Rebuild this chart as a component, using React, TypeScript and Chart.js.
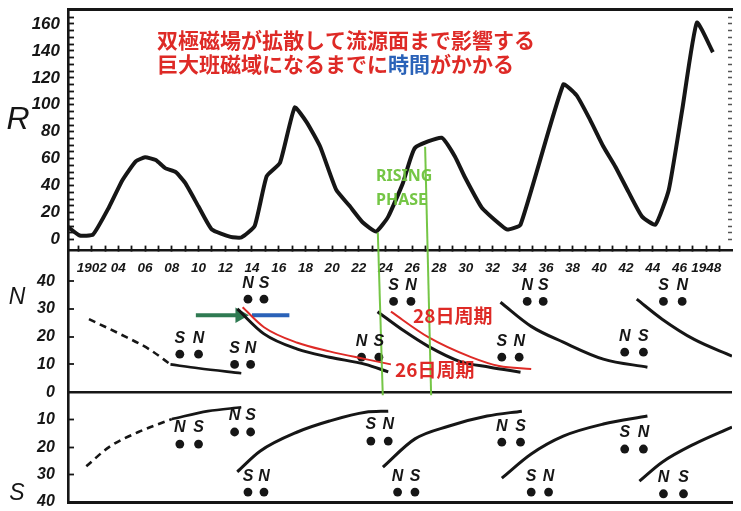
import { useEffect, useRef } from 'react';
import { Chart, registerables } from 'chart.js';

Chart.register(...registerables);

// ---------------- data ----------------
// Sunspot relative number R (years)
const rYears = [1900.2, 1901.1, 1902.1, 1903.3, 1904.3, 1905.3, 1906.0, 1906.8, 1907.5, 1908.3, 1909.0, 1910.0, 1911.0, 1912.4, 1913.2, 1914.2, 1915.1, 1916.1, 1917.2, 1918.1, 1919.1, 1920.3, 1921.3, 1922.3, 1923.3, 1924.2, 1925.3, 1926.2, 1928.2, 1929.2, 1929.9, 1931.2, 1932.4, 1933.1, 1934.1, 1937.3, 1938.3, 1939.3, 1940.3, 1941.2, 1942.2, 1943.2, 1944.2, 1945.2, 1946.2, 1947.3, 1948.5];
const rValues = [9.6, 3, 3.7, 24, 44, 58, 61, 59, 53, 50, 42, 24.5, 7.4, 2, 1.5, 10, 47, 57, 98, 87, 69, 37, 25, 12.6, 6, 17, 42, 68, 75.5, 61.5, 47, 23.7, 12.6, 7.4, 11, 115, 107, 89, 69, 54, 35, 17, 11, 37, 96, 161, 139];

// Northern hemisphere latitude bands
const nDashYears = [1901.8, 1904.1, 1906.3, 1907.9];
const nDashLat = [26.3, 21, 15.5, 10];
const nTailYears = [1907.9, 1910.0, 1913.2];
const nTailLat = [10, 8.6, 6.8];
const nCycleAYears = [1912.9, 1914.9, 1917.4, 1919.8, 1922.5, 1924.2];
const nCycleALat = [30, 21, 15.5, 12.6, 10, 7.3];
const nCycleBYears = [1923.4, 1925.4, 1927.2, 1929.6, 1931.8, 1934.1];
const nCycleBLat = [29, 22, 16.5, 11, 9, 7.2];
const nCycleCYears = [1932.6, 1934.9, 1937.3, 1940.3, 1943.6];
const nCycleCLat = [32.4, 23.7, 18, 11.9, 9];
const nCycleDYears = [1942.8, 1944.7, 1947.1, 1949.93];
const nCycleDLat = [33.5, 26.3, 19, 13];
const red26Years = [1913.3, 1914.9, 1917.4, 1919.8, 1922.5, 1924.4];
const red26Lat = [30.6, 23.4, 17.8, 14.7, 11.9, 10];
const red28Years = [1924.4, 1927.2, 1930.4, 1932.5, 1934.9];
const red28Lat = [29, 19.8, 12.6, 9.4, 8.3];
const greenArrowYears = [1909.8, 1913.1];
const greenArrowLat = [27.7, 27.7];
const blueBarYears = [1914.0, 1916.8];
const blueBarLat = [27.7, 27.7];

// Southern hemisphere latitude bands
const sDashYears = [1901.6, 1903.3, 1905.5, 1908.0];
const sDashLat = [27, 20, 14.5, 9.8];
const sTailYears = [1908.0, 1910.7, 1913.2];
const sTailLat = [9.8, 6.9, 5.5];
const sCycleAYears = [1912.9, 1914.6, 1917.4, 1919.8, 1922.5, 1924.2];
const sCycleALat = [29, 21.5, 14.5, 10.5, 7.3, 6.9];
const sCycleBYears = [1923.8, 1926.2, 1928.7, 1931.6, 1934.2];
const sCycleBLat = [27.3, 17, 12.4, 8.7, 6.9];
const sCycleCYears = [1932.7, 1934.9, 1937.3, 1940.3, 1943.6];
const sCycleCLat = [31.3, 22.5, 16, 11.6, 8.7];
const sCycleDYears = [1943.0, 1944.7, 1947.1, 1949.93];
const sCycleDLat = [32.4, 25.5, 18.9, 12.7];

// Spot pairs (dots) with polarity letters
const nDotYears = [1913.7, 1914.9, 1908.6, 1910.0, 1912.7, 1913.9, 1922.2, 1923.5, 1924.6, 1925.9, 1932.7, 1934.0, 1934.6, 1935.8, 1941.9, 1943.3, 1944.8, 1946.2];
const nDotLat = [33.5, 33.5, 13.7, 13.7, 10, 10, 12.6, 12.6, 32.7, 32.7, 12.6, 12.6, 32.7, 32.7, 14.4, 14.4, 32.7, 32.7];
const nDotPolarity = ['N', 'S', 'S', 'N', 'S', 'N', 'N', 'S', 'S', 'N', 'S', 'N', 'N', 'S', 'N', 'S', 'S', 'N'];
const sDotYears = [1908.6, 1910.0, 1912.7, 1913.9, 1913.7, 1914.9, 1922.9, 1924.2, 1924.9, 1926.2, 1932.7, 1934.1, 1934.9, 1936.2, 1941.9, 1943.3, 1944.8, 1946.3];
const sDotLat = [18.9, 18.9, 14.5, 14.5, 36.4, 36.4, 17.8, 17.8, 36.4, 36.4, 18.2, 18.2, 36.4, 36.4, 20.7, 20.7, 37, 37];
const sDotPolarity = ['N', 'S', 'N', 'S', 'S', 'N', 'S', 'N', 'N', 'S', 'N', 'S', 'S', 'N', 'S', 'N', 'N', 'S'];

// Rising-phase markers (top on the R curve, down to the N/S boundary)
const risingLeftYears = [1923.42, 1923.79];
const risingLeftR = [5.2, -115.6];
const risingRightYears = [1926.96, 1927.41];
const risingRightR = [68.9, -115.6];

// Tick labels
const yearLabelYears = [1902, 1904, 1906, 1908, 1910, 1912, 1914, 1916, 1918, 1920, 1922, 1924, 1926, 1928, 1930, 1932, 1934, 1936, 1938, 1940, 1942, 1944, 1946, 1948];
const yearLabelTexts = ['1902', '04', '06', '08', '10', '12', '14', '16', '18', '20', '22', '24', '26', '28', '30', '32', '34', '36', '38', '40', '42', '44', '46', '1948'];
const rTickLabels = [0, 20, 40, 60, 80, 100, 120, 140, 160];
const nTickLabels = [10, 20, 30, 40];
const sTickLabels = [0, 10, 20, 30, 40];

// Texts
const titleLine1 = '双極磁場が拡散して流源面まで影響する';
const titleLine2Parts = [
  { text: '巨大班磁域になるまでに', blue: false },
  { text: '時間', blue: true },
  { text: 'がかかる', blue: false },
];
const risingText = ['RISING', 'PHASE'];
const period28Text = '28日周期';
const period26Text = '26日周期';

// ---------------- styling ----------------
const INK = '#161616';
const RED = '#de2a26';
const BLUE = '#2a62b8';
const GREEN = 'rgba(110,195,60,0.95)';
const CLEAR = 'rgba(0,0,0,0)';
const HAND = "'Liberation Sans', Arimo, Arial, sans-serif";
const CJK = "'Noto Sans CJK JP', 'Noto Sans CJK SC', sans-serif";

const X_MIN = 1900.23;
const X_MAX = 1949.93;
const R_MIN = -194.8;
const R_MAX = 171.1;
const N_MIN = -39.6;
const N_MAX = 138.1;
const N_PANEL_TOP = 51.08;
const S_MIN = -139.6;
const S_MAX = 40;

const pts = (xs: number[], ys: number[]) => xs.map((x, i) => ({ x, y: ys[i] }));

const line = (xs: number[], ys: number[], yAxisID: string, color: string, width: number, extra: any = {}) => ({
  type: 'line',
  data: pts(xs, ys),
  xAxisID: 'x',
  yAxisID,
  borderColor: color,
  backgroundColor: color,
  borderWidth: width,
  pointRadius: 0,
  fill: false,
  cubicInterpolationMode: 'monotone',
  ...extra,
});

const dots = (xs: number[], ys: number[], yAxisID: string, letters: string[]) => ({
  type: 'line',
  data: pts(xs, ys),
  xAxisID: 'x',
  yAxisID,
  showLine: false,
  pointRadius: 4.4,
  pointBackgroundColor: INK,
  pointBorderColor: INK,
  pointBorderWidth: 0,
  letters,
});

// fixes a scale's size and removes its edge padding so the plot area is exact
const fixSize = (w: number | null, h: number | null) => (s: any) => {
  if (w !== null) s.width = w;
  if (h !== null) s.height = h;
  s.paddingTop = 0;
  s.paddingBottom = 0;
  s.paddingLeft = 0;
  s.paddingRight = 0;
};

const annotations = {
  id: 'annotations',
  afterDatasetsDraw(chart: any) {
    const { ctx } = chart;
    ctx.save();
    // polarity letters above the spot pairs
    ctx.font = `italic bold 16px ${HAND}`;
    ctx.fillStyle = INK;
    ctx.textAlign = 'center';
    ctx.textBaseline = 'middle';
    chart.data.datasets.forEach((ds: any, i: number) => {
      if (!ds.letters) return;
      const meta = chart.getDatasetMeta(i);
      meta.data.forEach((el: any, j: number) => {
        ctx.fillText(ds.letters[j], el.x, el.y - 16);
      });
    });

    // axis titles
    ctx.textAlign = 'center';
    ctx.font = `italic 32px ${HAND}`;
    ctx.fillText('R', 18, 120);
    ctx.font = `italic 23px ${HAND}`;
    ctx.fillText('N', 17, 298);
    ctx.fillText('S', 17, 494);

    // red headline
    ctx.textAlign = 'left';
    ctx.font = `bold 21px ${CJK}`;
    ctx.fillStyle = RED;
    ctx.fillText(titleLine1, 157, 40);
    let x = 157;
    titleLine2Parts.forEach((p) => {
      ctx.fillStyle = p.blue ? BLUE : RED;
      ctx.fillText(p.text, x, 64);
      x += ctx.measureText(p.text).width;
    });

    // rising phase label
    ctx.font = `bold 16px 'Noto Sans', 'Open Sans', sans-serif`;
    ctx.fillStyle = GREEN;
    ctx.fillText(risingText[0], 376, 176);
    ctx.fillText(risingText[1], 376, 200);

    // period labels
    ctx.font = `bold 19px ${CJK}`;
    ctx.fillStyle = RED;
    ctx.fillText(period28Text, 413, 316);
    ctx.fillText(period26Text, 395, 370);
    ctx.restore();
  },
};

const tickFont = (size: number) => ({ family: HAND, size, style: 'italic' as const, weight: 'bold' as const });

export default function App() {
  const ref = useRef<HTMLCanvasElement>(null);

  useEffect(() => {
    if (!ref.current) return;
    const datasets: any[] = [
      // green rising-phase markers
      line(risingLeftYears, risingLeftR, 'yR', GREEN, 2, { cubicInterpolationMode: 'default', tension: 0 }),
      line(risingRightYears, risingRightR, 'yR', GREEN, 2, { cubicInterpolationMode: 'default', tension: 0 }),
      // sunspot number
      line(rYears, rValues, 'yR', INK, 4, { cubicInterpolationMode: 'default', tension: 0.15 }),
      // north
      line(nDashYears, nDashLat, 'yN', INK, 2.6, { borderDash: [7, 5] }),
      line(nTailYears, nTailLat, 'yN', INK, 2.6),
      line(nCycleAYears, nCycleALat, 'yN', INK, 3),
      line(nCycleBYears, nCycleBLat, 'yN', INK, 3),
      line(nCycleCYears, nCycleCLat, 'yN', INK, 3),
      line(nCycleDYears, nCycleDLat, 'yN', INK, 3),
      line(red26Years, red26Lat, 'yN', RED, 2),
      line(red28Years, red28Lat, 'yN', RED, 2),
      line(greenArrowYears, greenArrowLat, 'yN', '#2f7a52', 4, {
        cubicInterpolationMode: 'default', tension: 0,
        pointRadius: [0, 5], pointStyle: 'triangle', pointRotation: 90,
        pointBackgroundColor: '#2f7a52', pointBorderColor: '#2f7a52',
      }),
      line(blueBarYears, blueBarLat, 'yN', BLUE, 4, { cubicInterpolationMode: 'default', tension: 0 }),
      // south
      line(sDashYears, sDashLat, 'yS', INK, 2.6, { borderDash: [7, 5] }),
      line(sTailYears, sTailLat, 'yS', INK, 2.6),
      line(sCycleAYears, sCycleALat, 'yS', INK, 3),
      line(sCycleBYears, sCycleBLat, 'yS', INK, 3),
      line(sCycleCYears, sCycleCLat, 'yS', INK, 3),
      line(sCycleDYears, sCycleDLat, 'yS', INK, 3),
      // spots
      dots(nDotYears, nDotLat, 'yN', nDotPolarity),
      dots(sDotYears, sDotLat, 'yS', sDotPolarity),
    ];

    const chart = new Chart(ref.current, {
      type: 'line',
      data: { datasets },
      plugins: [annotations],
      options: {
        responsive: false,
        animation: false,
        events: [],
        layout: { padding: { left: 0, right: 0, top: 9, bottom: 8 } },
        plugins: { legend: { display: false }, tooltip: { enabled: false } },
        scales: {
          x: {
            type: 'linear',
            min: X_MIN,
            max: X_MAX,
            position: { yN: N_PANEL_TOP },
            afterFit: fixSize(null, 0),
            border: { display: true, color: INK, width: 2.6 },
            grid: { display: true, drawOnChartArea: false, drawTicks: true, tickLength: -6, color: INK, tickColor: INK, tickWidth: 1.8 },
            ticks: {
              stepSize: 1,
              autoSkip: false,
              includeBounds: false,
              maxRotation: 0,
              minRotation: 0,
              padding: 16,
              color: INK,
              font: { family: HAND, size: 13.5, style: 'italic', weight: 'bold' },
              callback: (v: any) => {
                const i = yearLabelYears.indexOf(Number(v));
                return i >= 0 ? yearLabelTexts[i] : '';
              },
            },
          },
          xTop: {
            type: 'linear', min: X_MIN, max: X_MAX, position: 'top',
            afterFit: fixSize(null, 0),
            border: { display: true, color: INK, width: 3 },
            grid: { display: true, drawOnChartArea: false, drawTicks: false },
            ticks: { display: false },
          },
          xBottom: {
            type: 'linear', min: X_MIN, max: X_MAX, position: 'bottom',
            afterFit: fixSize(null, 0),
            border: { display: true, color: INK, width: 3 },
            grid: { display: true, drawOnChartArea: false, drawTicks: false },
            ticks: { display: false },
          },
          yR: {
            type: 'linear', min: R_MIN, max: R_MAX, position: 'left', weight: 3,
            afterFit: fixSize(68, null),
            border: { display: true, color: INK, width: 2.6 },
            grid: {
              display: true, drawOnChartArea: false, drawTicks: true, tickLength: -6, color: CLEAR, tickWidth: 1.8,
              tickColor: (c: any) => (c.tick && c.tick.value >= 0 && c.tick.value <= 165 ? INK : CLEAR),
            },
            ticks: {
              stepSize: 5, autoSkip: false, includeBounds: false, padding: 14, color: INK, font: tickFont(17),
              callback: (v: any) => (rTickLabels.includes(Number(v)) ? String(v) : ''),
            },
          },
          yRight: {
            type: 'linear', min: R_MIN, max: R_MAX, position: 'right',
            afterFit: fixSize(0, null),
            border: { display: false },
            grid: {
              display: true, drawOnChartArea: false, drawTicks: true, tickLength: -4, color: CLEAR, tickWidth: 1.5,
              tickColor: (c: any) => (c.tick && c.tick.value >= 0 && c.tick.value <= 165 ? '#555' : CLEAR),
            },
            ticks: { display: false, stepSize: 5, autoSkip: false, includeBounds: false },
          },
          yN: {
            type: 'linear', min: N_MIN, max: N_MAX, position: 'left', weight: 2,
            afterFit: fixSize(0, null),
            border: { display: false },
            grid: {
              display: true, drawOnChartArea: true, drawTicks: true, tickLength: -6, tickWidth: 1.8,
              color: (c: any) => (c.tick && c.tick.value === 0 ? INK : CLEAR),
              lineWidth: (c: any) => (c.tick && c.tick.value === 0 ? 2.6 : 0),
              tickColor: (c: any) => (c.tick && c.tick.value >= 10 && c.tick.value <= 40 ? INK : CLEAR),
            },
            ticks: {
              stepSize: 10, autoSkip: false, includeBounds: false, mirror: true, crossAlign: 'far', padding: -31,
              color: INK, font: tickFont(16),
              callback: (v: any) => (nTickLabels.includes(Number(v)) ? String(v) : ''),
            },
          },
          yS: {
            type: 'linear', min: S_MIN, max: S_MAX, reverse: true, position: 'left', weight: 1,
            afterFit: fixSize(0, null),
            border: { display: false },
            grid: {
              display: true, drawOnChartArea: false, drawTicks: true, tickLength: -6, tickWidth: 1.8, color: CLEAR,
              tickColor: (c: any) => (c.tick && c.tick.value >= 10 && c.tick.value <= 30 ? INK : CLEAR),
            },
            ticks: {
              stepSize: 10, autoSkip: false, includeBounds: false, mirror: true, crossAlign: 'far', padding: -31,
              color: INK, font: tickFont(16),
              callback: (v: any) => (sTickLabels.includes(Number(v)) ? String(v) : ''),
            },
          },
        },
      } as any,
    } as any);
    return () => chart.destroy();
  }, []);

  return (
    <div style={{ position: 'fixed', left: 0, top: 0, width: 741, height: 511, background: '#ffffff', overflow: 'hidden' }}>
      <canvas ref={ref} width={741} height={511} style={{ display: 'block', width: 741, height: 511 }} />
    </div>
  );
}
